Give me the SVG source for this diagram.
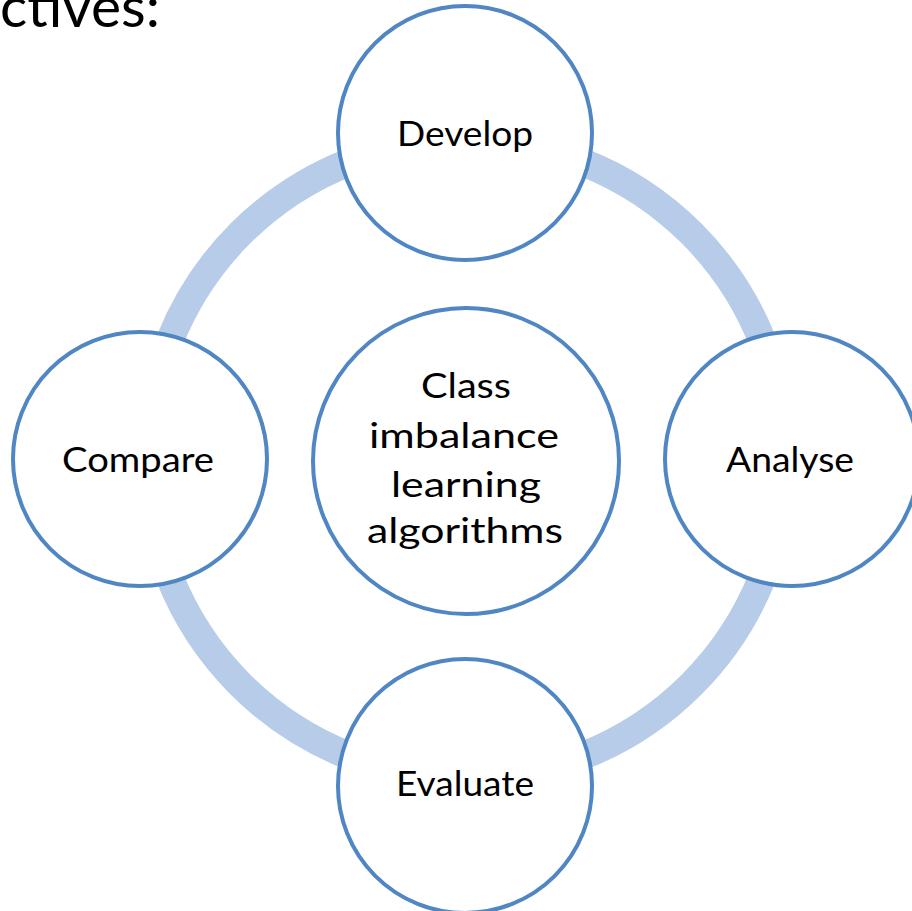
<svg xmlns="http://www.w3.org/2000/svg" width="912" height="911" viewBox="0 0 912 911">
  <style>
    .node { fill: #ffffff; stroke: #4f86c3; stroke-width: 4; }
    .ring { fill: none; stroke: #b7cce8; stroke-width: 28; }
    .label { font-family: Lato, "Open Sans", "Liberation Sans", sans-serif; font-size: 34px; fill: #000000; text-anchor: middle; }
    .title { font-family: Lato, "Open Sans", "Liberation Sans", sans-serif; font-size: 56px; fill: #000000; }
  </style>
  <rect x="0" y="0" width="912" height="911" fill="#ffffff"/>

  <!-- slide heading, cropped at the top-left corner -->
  <text class="title" x="0" y="27" textLength="160" lengthAdjust="spacingAndGlyphs">ctives:</text>

  <!-- cycle ring joining the four outer nodes -->
  <g id="connectors">
    <circle class="ring" cx="466" cy="459" r="319"/>
  </g>

  <g id="node-center">
    <circle class="node" cx="466" cy="461" r="153"/>
    <text class="label" x="466" y="398" textLength="90" lengthAdjust="spacingAndGlyphs">Class</text>
    <text class="label" x="464" y="448" textLength="190" lengthAdjust="spacingAndGlyphs">imbalance</text>
    <text class="label" x="466" y="497" textLength="150" lengthAdjust="spacingAndGlyphs">learning</text>
    <text class="label" x="465" y="543" textLength="196" lengthAdjust="spacingAndGlyphs">algorithms</text>
  </g>

  <g id="node-develop">
    <circle class="node" cx="465" cy="133" r="127"/>
    <text class="label" x="465" y="146" textLength="136" lengthAdjust="spacingAndGlyphs">Develop</text>
  </g>

  <g id="node-analyse">
    <circle class="node" cx="792" cy="459" r="127"/>
    <text class="label" x="790" y="472" textLength="128" lengthAdjust="spacingAndGlyphs">Analyse</text>
  </g>

  <g id="node-evaluate">
    <circle class="node" cx="465" cy="786" r="127"/>
    <text class="label" x="465" y="796" textLength="138" lengthAdjust="spacingAndGlyphs">Evaluate</text>
  </g>

  <g id="node-compare">
    <circle class="node" cx="140" cy="459" r="127"/>
    <text class="label" x="138" y="472" textLength="152" lengthAdjust="spacingAndGlyphs">Compare</text>
  </g>
</svg>
